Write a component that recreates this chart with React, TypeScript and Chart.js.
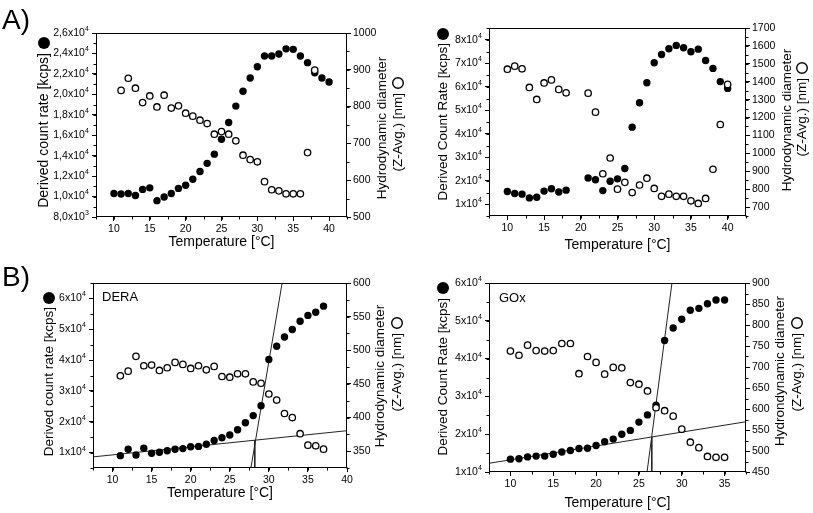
import React, { useEffect, useRef } from 'react';
import { Chart, registerables } from 'chart.js';

Chart.register(...registerables);

const FONT = '"Liberation Sans", Arial, Helvetica, sans-serif';

// ---------- Panel A (top-left) ----------
const countTempA1 = [10, 11, 12, 13, 14, 15, 16, 17, 18, 19, 20, 21, 22, 23, 24, 25, 26, 27, 28, 29, 30, 31, 32, 33, 34, 35, 36, 37, 38, 39, 40];
const countA1 = [10300, 10250, 10300, 10100, 10700, 10850, 9600, 9950, 10300, 10800, 11100, 11700, 12450, 13250, 14150, 15600, 17250, 18850, 20300, 21600, 22700, 23750, 23750, 23950, 24450, 24400, 23750, 23100, 22100, 21600, 21200];
const diamTempA1 = [11, 12, 13, 14, 15, 16, 17, 18, 19, 20, 21, 22, 23, 24, 25, 26, 27, 28, 29, 30, 31, 32, 33, 34, 35, 36, 37, 38];
const diamA1 = [844, 877, 850, 811, 829, 799, 831, 796, 802, 782, 774, 763, 754, 725, 732, 725, 707, 668, 656, 650, 596, 574, 571, 563, 563, 563, 675, 899];

// ---------- Panel A (top-right) ----------
const tempA2 = [10, 11, 12, 13, 14, 15, 16, 17, 18, 21, 22, 23, 24, 25, 26, 27, 28, 29, 30, 31, 32, 33, 34, 35, 36, 37, 38, 39, 40];
const countA2 = [15400, 14600, 14300, 12700, 13000, 15600, 16600, 15200, 16000, 21200, 20400, 15800, 19800, 20800, 25200, 42800, 53200, 61700, 70200, 73700, 76200, 77600, 76600, 74900, 76000, 71200, 67800, 62200, 59300];
const diamA2 = [1470, 1487, 1472, 1368, 1301, 1393, 1410, 1357, 1338, 1336, 1230, 886, 974, 800, 838, 781, 823, 861, 804, 760, 772, 760, 760, 735, 720, 748, 911, 1161, 1385];

// ---------- Panel B (DERA) ----------
const tempB1 = [11, 12, 13, 14, 15, 16, 17, 18, 19, 20, 21, 22, 23, 24, 25, 26, 27, 28, 29, 30, 31, 32, 33, 34, 35, 36, 37];
const countB1 = [9000, 11100, 9200, 11400, 9800, 10100, 10600, 11100, 11300, 11900, 12000, 12700, 13900, 14800, 15700, 17400, 19700, 22000, 25200, 40200, 44500, 47500, 49900, 52600, 54500, 55500, 57500];
const diamB1 = [462, 469, 491, 477, 478, 470, 474, 482, 479, 473, 477, 471, 476, 461, 460, 465, 465, 453, 451, 435, 426, 406, 400, 376, 359, 358, 353];
const baseLineB1X = [7.5, 40];
const baseLineB1Y = [8600, 17100];
const riseLineB1X = [27.7, 31.7];
const riseLineB1Y = [5000, 65000];
const markB1X = [28.2, 28.2];
const markB1Y = [14000, 5000];

// ---------- Panel B (GOx) ----------
const tempB2 = [10, 11, 12, 13, 14, 15, 16, 17, 18, 19, 20, 21, 22, 23, 24, 25, 26, 27, 28, 29, 30, 31, 32, 33, 34, 35];
const countB2 = [13400, 13500, 14000, 14200, 14200, 14700, 15300, 15700, 16200, 16300, 17000, 18000, 18700, 20000, 21000, 23200, 25100, 27700, 44800, 48100, 50400, 52800, 53300, 54500, 55500, 55500];
const diamB2 = [738, 728, 752, 739, 738, 739, 756, 756, 684, 725, 711, 683, 699, 698, 663, 659, 643, 603, 596, 583, 552, 521, 508, 487, 485, 485];
const baseLineB2X = [7.5, 37.5];
const baseLineB2Y = [12300, 23300];
const riseLineB2X = [25.95, 28.86];
const riseLineB2Y = [10000, 60000];
const markB2X = [26.5, 26.5];
const markB2Y = [19300, 10000];

// ---------- tick values / labels ----------
const xTicksA = [10, 15, 20, 25, 30, 35, 40];
const xTicksB1 = [10, 15, 20, 25, 30, 35, 40];
const xTicksB2 = [10, 15, 20, 25, 30, 35];
const leftTicksA1 = [8000, 10000, 12000, 14000, 16000, 18000, 20000, 22000, 24000, 26000];
const leftLabelsA1 = ['8,0x10^3', '1,0x10^4', '1,2x10^4', '1,4x10^4', '1,6x10^4', '1,8x10^4', '2,0x10^4', '2,2x10^4', '2,4x10^4', '2,6x10^4'];
const leftTicksA2 = [10000, 20000, 30000, 40000, 50000, 60000, 70000, 80000];
const leftLabelsA2 = ['1x10^4', '2x10^4', '3x10^4', '4x10^4', '5x10^4', '6x10^4', '7x10^4', '8x10^4'];
const leftTicksB = [10000, 20000, 30000, 40000, 50000, 60000];
const leftLabelsB = ['1x10^4', '2x10^4', '3x10^4', '4x10^4', '5x10^4', '6x10^4'];
const rightTicksA1 = [500, 600, 700, 800, 900, 1000];
const rightTicksA2 = [700, 800, 900, 1000, 1100, 1200, 1300, 1400, 1500, 1600, 1700];
const rightTicksB1 = [350, 400, 450, 500, 550, 600];
const rightTicksB2 = [450, 500, 550, 600, 650, 700, 750, 800, 850, 900];

const zip = (xs: number[], ys: number[]) => xs.map((x, i) => ({ x, y: ys[i] }));

type Line = { xs: number[]; ys: number[] };
type PanelCfg = {
  x0: number; y0: number; w: number; h: number;
  leftW: number; rightW: number; top: number; bottomH: number;
  xMin: number; xMax: number; xTicks: number[];
  yMin: number; yMax: number; yTicks: number[]; yLabels: string[]; yMinorStart: number; yMinorStep: number;
  y2Min: number; y2Max: number; y2Ticks: number[]; y2MinorStart: number; y2MinorStep: number;
  countT: number[]; count: number[]; diamT: number[]; diam: number[]; lines: Line[];
  leftTitle: string; leftTitleFont: number; lx: number; lcy: number; lTextEnd: number;
  rightTitle1: string; rx1: number; ry1: number; rx2: number; rcy: number;
  xTitleY: number;
  panelLabel?: { text: string; x: number; y: number };
  innerLabel?: { text: string; x: number; y: number };
};

const panels: PanelCfg[] = [
  {
    x0: 0, y0: 0, w: 406, h: 256, leftW: 96, rightW: 59, top: 33, bottomH: 39,
    xMin: 7.5, xMax: 42.5, xTicks: xTicksA,
    yMin: 8000, yMax: 26000, yTicks: leftTicksA1, yLabels: leftLabelsA1, yMinorStart: 8000, yMinorStep: 1000,
    y2Min: 500, y2Max: 1000, y2Ticks: rightTicksA1, y2MinorStart: 500, y2MinorStep: 50,
    countT: countTempA1, count: countA1, diamT: diamTempA1, diam: diamA1, lines: [],
    leftTitle: 'Derived count rate [kcps]', leftTitleFont: 14, lx: 44, lcy: 43, lTextEnd: 53,
    rightTitle1: 'Hydrodynamic diameter', rx1: 382, ry1: 128, rx2: 398, rcy: 83,
    xTitleY: 242,
    panelLabel: { text: 'A)', x: 2, y: 29 },
  },
  {
    x0: 406, y0: 0, w: 407, h: 256, leftW: 83, rightW: 67, top: 28, bottomH: 40,
    xMin: 7.5, xMax: 42.5, xTicks: xTicksA,
    yMin: 5000, yMax: 85000, yTicks: leftTicksA2, yLabels: leftLabelsA2, yMinorStart: 5000, yMinorStep: 5000,
    y2Min: 650, y2Max: 1700, y2Ticks: rightTicksA2, y2MinorStart: 650, y2MinorStep: 50,
    countT: tempA2, count: countA2, diamT: tempA2, diam: diamA2, lines: [],
    leftTitle: 'Derived Count Rate [kcps]', leftTitleFont: 13.5, lx: 37, lcy: 34, lTextEnd: 43,
    rightTitle1: 'Hydrodynamic diameter', rx1: 381, ry1: 120, rx2: 396, rcy: 68,
    xTitleY: 245,
  },
  {
    x0: 0, y0: 256, w: 406, h: 257, leftW: 93, rightW: 59, top: 27, bottomH: 45,
    xMin: 7.5, xMax: 40, xTicks: xTicksB1,
    yMin: 5000, yMax: 65000, yTicks: leftTicksB, yLabels: leftLabelsB, yMinorStart: 5000, yMinorStep: 5000,
    y2Min: 325, y2Max: 600, y2Ticks: rightTicksB1, y2MinorStart: 325, y2MinorStep: 25,
    countT: tempB1, count: countB1, diamT: tempB1, diam: diamB1,
    lines: [{ xs: baseLineB1X, ys: baseLineB1Y }, { xs: riseLineB1X, ys: riseLineB1Y }, { xs: markB1X, ys: markB1Y }],
    leftTitle: 'Derived count rate [kcps]', leftTitleFont: 13.5, lx: 49, lcy: 42, lTextEnd: 51,
    rightTitle1: 'Hydrodynamic diameter', rx1: 380, ry1: 120, rx2: 397, rcy: 67,
    xTitleY: 237,
    panelLabel: { text: 'B)', x: 2, y: 30 },
    innerLabel: { text: 'DERA', x: 102, y: 45 },
  },
  {
    x0: 406, y0: 256, w: 407, h: 257, leftW: 83, rightW: 67, top: 27, bottomH: 41,
    xMin: 7.5, xMax: 37.5, xTicks: xTicksB2,
    yMin: 10000, yMax: 60000, yTicks: leftTicksB, yLabels: leftLabelsB, yMinorStart: 10000, yMinorStep: 5000,
    y2Min: 450, y2Max: 900, y2Ticks: rightTicksB2, y2MinorStart: 450, y2MinorStep: 25,
    countT: tempB2, count: countB2, diamT: tempB2, diam: diamB2,
    lines: [{ xs: baseLineB2X, ys: baseLineB2Y }, { xs: riseLineB2X, ys: riseLineB2Y }, { xs: markB2X, ys: markB2Y }],
    leftTitle: 'Derived Count Rate [kcps]', leftTitleFont: 13.5, lx: 37, lcy: 32, lTextEnd: 42,
    rightTitle1: 'Hydrondynamic diameter', rx1: 374, ry1: 115, rx2: 391, rcy: 67,
    xTitleY: 247,
    innerLabel: { text: 'GOx', x: 93, y: 46 },
  },
];

function rotText(ctx: CanvasRenderingContext2D, text: string, x: number, y: number, align: CanvasTextAlign) {
  ctx.save();
  ctx.translate(x, y);
  ctx.rotate(-Math.PI / 2);
  ctx.textAlign = align;
  ctx.textBaseline = 'middle';
  ctx.fillText(text, 0, 0);
  ctx.restore();
}

function overlay(cfg: PanelCfg) {
  return {
    id: 'overlay',
    afterDraw(chart: any) {
      const ctx: CanvasRenderingContext2D = chart.ctx;
      const a = chart.chartArea;
      const xs = chart.scales.x, ys = chart.scales.y, y2 = chart.scales.y2;
      ctx.save();
      ctx.strokeStyle = '#000';
      ctx.fillStyle = '#000';
      ctx.lineWidth = 1;
      // frame
      const L = Math.round(a.left) + 0.5, R = Math.round(a.right) - 0.5;
      const T = Math.round(a.top) + 0.5, B = Math.round(a.bottom) - 0.5;
      ctx.strokeRect(L, T, R - L, B - T);
      // minor ticks
      ctx.beginPath();
      for (let i = 0; ; i++) {
        const v = cfg.xMin + i * 2.5;
        if (v > cfg.xMax + 1e-6) break;
        const px = Math.round(xs.getPixelForValue(v)) + 0.5;
        ctx.moveTo(px, B); ctx.lineTo(px, B + 3);
      }
      for (let i = 0; ; i++) {
        const v = cfg.yMinorStart + i * cfg.yMinorStep;
        if (v > cfg.yMax + 1e-6) break;
        const py = Math.round(ys.getPixelForValue(v)) + 0.5;
        ctx.moveTo(L, py); ctx.lineTo(L - 3, py);
      }
      for (let i = 0; ; i++) {
        const v = cfg.y2MinorStart + i * cfg.y2MinorStep;
        if (v > cfg.y2Max + 1e-6) break;
        const py = Math.round(y2.getPixelForValue(v)) + 0.5;
        ctx.moveTo(R, py); ctx.lineTo(R + 3, py);
      }
      ctx.stroke();
      // left tick labels with superscript exponent
      const labelRight = a.left - 7;
      cfg.yTicks.forEach((v, i) => {
        const [base, exp] = cfg.yLabels[i].split('^');
        const py = ys.getPixelForValue(v);
        ctx.textBaseline = 'middle';
        ctx.textAlign = 'right';
        ctx.font = `7px ${FONT}`;
        const ew = ctx.measureText(exp).width;
        ctx.fillText(exp, labelRight, py - 4);
        ctx.font = `10.5px ${FONT}`;
        ctx.fillText(base, labelRight - ew - 0.3, py);
      });
      // x title
      ctx.font = `14px ${FONT}`;
      ctx.textAlign = 'center';
      ctx.textBaseline = 'middle';
      ctx.fillText('Temperature [°C]', (a.left + a.right) / 2, cfg.xTitleY);
      // left title + filled circle
      ctx.font = `${cfg.leftTitleFont}px ${FONT}`;
      rotText(ctx, cfg.leftTitle, cfg.lx, cfg.lTextEnd, 'right');
      ctx.beginPath();
      ctx.arc(cfg.lx, cfg.lcy, 6, 0, Math.PI * 2);
      ctx.fill();
      // right title (two lines) + open circle
      ctx.font = `13.5px ${FONT}`;
      rotText(ctx, cfg.rightTitle1, cfg.rx1, cfg.ry1, 'center');
      rotText(ctx, '(Z-Avg.) [nm]', cfg.rx2, cfg.rcy + 10, 'right');
      ctx.lineWidth = 1.4;
      ctx.beginPath();
      ctx.arc(cfg.rx2, cfg.rcy, 5.3, 0, Math.PI * 2);
      ctx.stroke();
      // panel labels
      if (cfg.panelLabel) {
        ctx.font = `28px ${FONT}`;
        ctx.textAlign = 'left';
        ctx.textBaseline = 'alphabetic';
        ctx.fillText(cfg.panelLabel.text, cfg.panelLabel.x, cfg.panelLabel.y);
      }
      if (cfg.innerLabel) {
        ctx.font = `13px ${FONT}`;
        ctx.textAlign = 'left';
        ctx.textBaseline = 'alphabetic';
        ctx.fillText(cfg.innerLabel.text, cfg.innerLabel.x, cfg.innerLabel.y);
      }
      ctx.restore();
    },
  };
}

function Panel({ cfg }: { cfg: PanelCfg }) {
  const ref = useRef<HTMLCanvasElement>(null);
  useEffect(() => {
    const datasets: any[] = [
      {
        data: zip(cfg.diamT, cfg.diam), yAxisID: 'y2', showLine: false,
        pointRadius: 3.2, pointBorderWidth: 1.3, backgroundColor: '#fff', borderColor: '#000',
      },
      {
        data: zip(cfg.countT, cfg.count), yAxisID: 'y', showLine: false,
        pointRadius: 3.7, pointBorderWidth: 0, backgroundColor: '#000', borderColor: '#000',
      },
      ...cfg.lines.map((ln) => ({
        data: zip(ln.xs, ln.ys), yAxisID: 'y', showLine: true, pointRadius: 0,
        borderColor: '#222', borderWidth: 1, fill: false,
      })),
    ];
    const tickGrid = { display: true, drawOnChartArea: false, drawTicks: true, tickLength: 4, color: '#000', lineWidth: 1 };
    const plain = (v: any) => String(v);
    const chart = new Chart(ref.current!, {
      type: 'scatter',
      data: { datasets },
      options: {
        responsive: false,
        devicePixelRatio: 1,
        animation: false,
        events: [],
        layout: { padding: { top: cfg.top, left: 0, right: 0, bottom: 0 } },
        plugins: { legend: { display: false }, tooltip: { enabled: false } },
        scales: {
          x: {
            type: 'linear', position: 'bottom', min: cfg.xMin, max: cfg.xMax,
            afterBuildTicks: (s: any) => { s.ticks = cfg.xTicks.map((v) => ({ value: v })); },
            afterFit: (s: any) => { s.height = cfg.bottomH; },
            grid: tickGrid, border: { display: false },
            ticks: { color: '#000', font: { family: FONT, size: 10.5 }, padding: 2, maxRotation: 0, autoSkip: false, callback: plain },
          },
          y: {
            type: 'linear', position: 'left', min: cfg.yMin, max: cfg.yMax,
            afterBuildTicks: (s: any) => { s.ticks = cfg.yTicks.map((v) => ({ value: v })); },
            afterFit: (s: any) => { s.width = cfg.leftW; },
            grid: tickGrid, border: { display: false },
            ticks: { display: false },
          },
          y2: {
            type: 'linear', position: 'right', min: cfg.y2Min, max: cfg.y2Max,
            afterBuildTicks: (s: any) => { s.ticks = cfg.y2Ticks.map((v) => ({ value: v })); },
            afterFit: (s: any) => { s.width = cfg.rightW; },
            grid: tickGrid, border: { display: false },
            ticks: { color: '#000', font: { family: FONT, size: 10.5 }, padding: 2, autoSkip: false, callback: plain },
          },
        },
      } as any,
      plugins: [overlay(cfg)],
    });
    return () => chart.destroy();
  }, [cfg]);
  return (
    <canvas
      ref={ref}
      width={cfg.w}
      height={cfg.h}
      style={{ position: 'absolute', left: cfg.x0, top: cfg.y0, width: cfg.w, height: cfg.h, display: 'block' }}
    />
  );
}

export default function App() {
  return (
    <div style={{ position: 'absolute', left: 0, top: 0, width: 813, height: 513, background: '#fff', overflow: 'hidden' }}>
      {panels.map((p, i) => (
        <Panel key={i} cfg={p} />
      ))}
    </div>
  );
}
